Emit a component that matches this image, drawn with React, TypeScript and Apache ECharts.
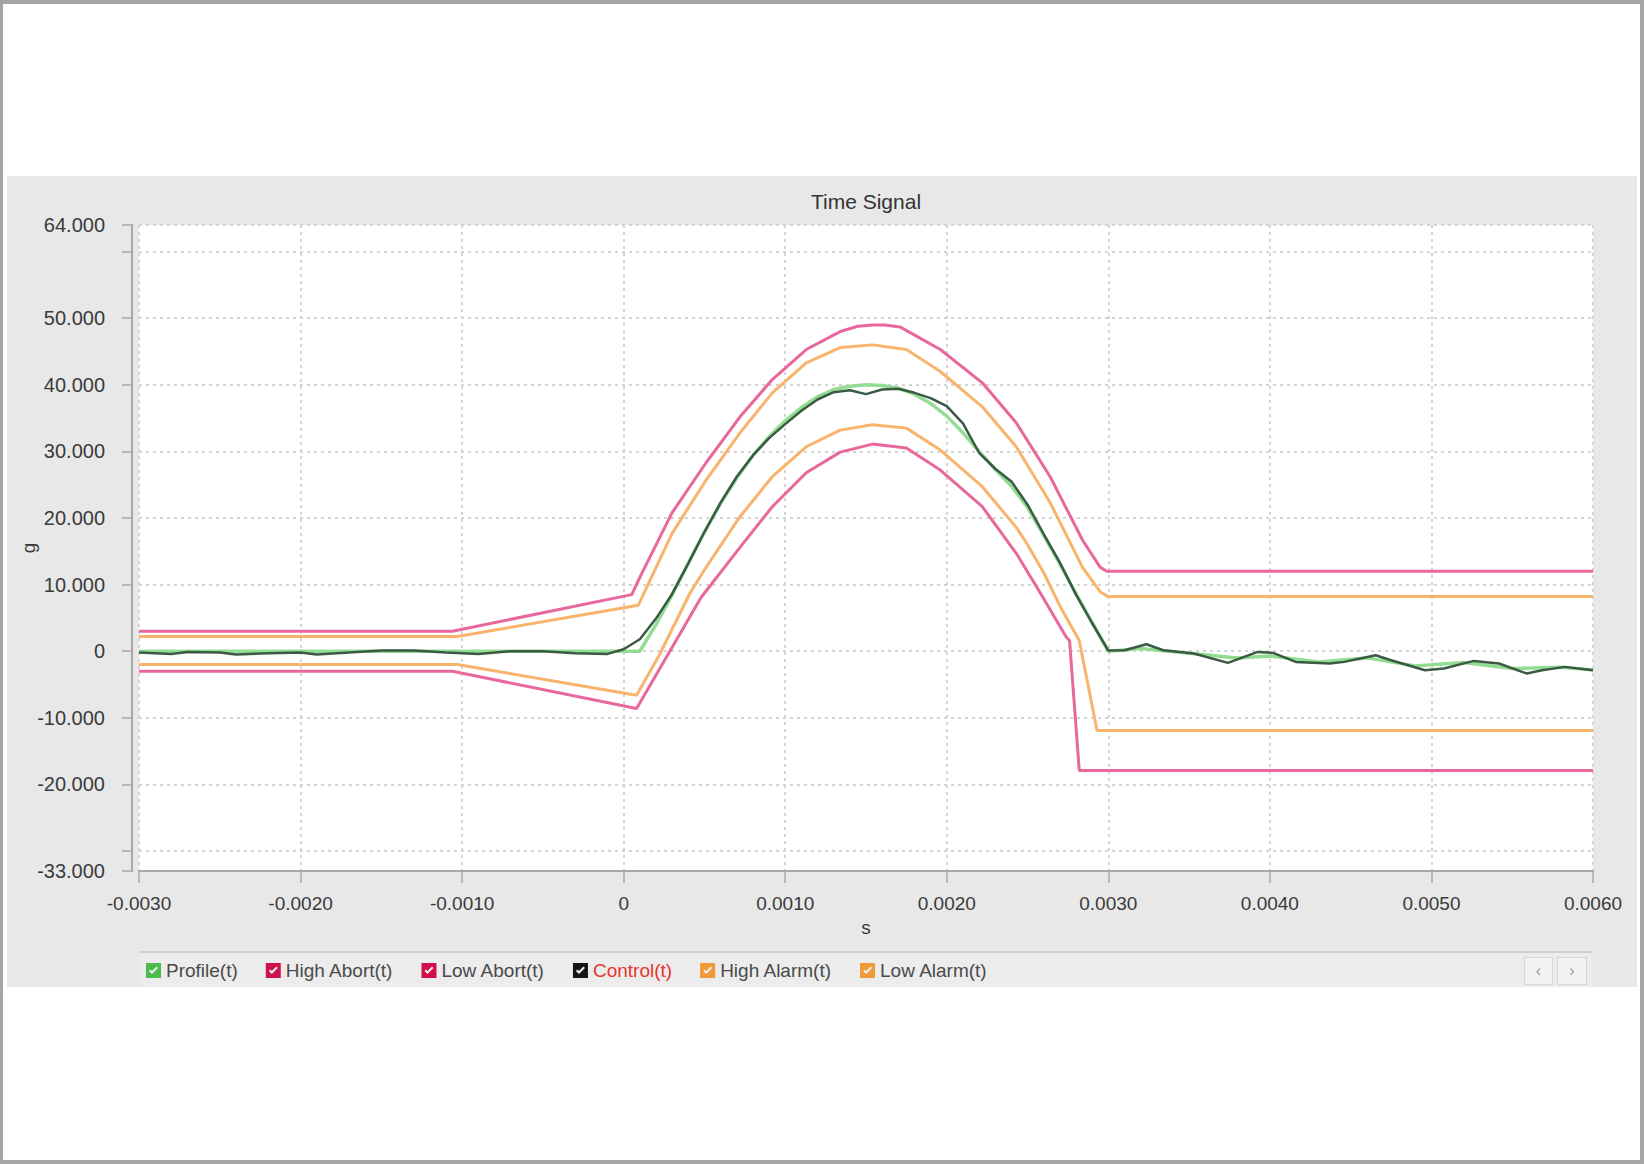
import React, { useEffect, useRef } from "react";
import * as echarts from "echarts";

// ---- data (time in s, acceleration in g) ----
const seriesNames = ["Profile(t)", "High Abort(t)", "Low Abort(t)", "Control(t)", "High Alarm(t)", "Low Alarm(t)"];

const profile: number[][] = [
  [-0.003, 0], [0.0001, 0], [0.0002, 4.0], [0.0003, 8.5], [0.0004, 13.2], [0.0005, 17.9],
  [0.0006, 22.2], [0.0007, 26.0], [0.0008, 29.4], [0.0009, 32.2], [0.001, 34.6], [0.0011, 36.6],
  [0.0012, 38.2], [0.0013, 39.3], [0.0014, 39.8], [0.0015, 40.0], [0.0016, 39.9], [0.0017, 39.5],
  [0.0018, 38.6], [0.0019, 37.2], [0.002, 35.3], [0.0021, 32.8], [0.0022, 30.0], [0.0023, 27.3],
  [0.0024, 24.8], [0.0025, 21.6], [0.0026, 17.4], [0.0027, 13.1], [0.0028, 8.6], [0.0029, 4.3],
  [0.003, 0.0], [0.0032, 0.4], [0.0035, -0.3], [0.0038, -1.0], [0.004, -0.7], [0.0043, -1.6],
  [0.0046, -1.0], [0.0049, -2.2], [0.0052, -1.7], [0.0055, -2.6], [0.0058, -2.4], [0.006, -2.8],
];

const control: number[][] = [
  [-0.003, -0.2], [-0.0028, -0.4], [-0.0027, -0.1], [-0.0025, -0.2], [-0.0024, -0.5], [-0.0022, -0.3],
  [-0.002, -0.2], [-0.0019, -0.5], [-0.0017, -0.2], [-0.0015, 0.1], [-0.0013, 0.1], [-0.0011, -0.2],
  [-0.0009, -0.4], [-0.0007, 0.0], [-0.0005, 0.0], [-0.0003, -0.3], [-0.0001, -0.4], [0.0, 0.3],
  [0.0001, 1.8], [0.0002, 4.9], [0.0003, 8.6], [0.0004, 13.2], [0.0005, 17.9], [0.0006, 22.3],
  [0.0007, 26.2], [0.0008, 29.4], [0.0009, 32.0], [0.001, 34.1], [0.0011, 36.1], [0.0012, 37.8],
  [0.0013, 38.9], [0.0014, 39.2], [0.0015, 38.6], [0.0016, 39.3], [0.0017, 39.4], [0.0018, 38.8],
  [0.0019, 38.0], [0.002, 36.8], [0.0021, 34.2], [0.0022, 29.8], [0.0023, 27.4], [0.0024, 25.5],
  [0.0025, 22.0], [0.0026, 17.6], [0.0027, 13.3], [0.0028, 8.5], [0.0029, 4.2], [0.003, 0.1],
  [0.0031, 0.15], [0.003236, 1.05], [0.00334, 0.15], [0.00353, -0.35], [0.00374, -1.75], [0.003925, -0.1],
  [0.00402, -0.25], [0.00416, -1.6], [0.00437, -1.85], [0.00446, -1.6], [0.004655, -0.6], [0.00475, -1.35],
  [0.00496, -2.85], [0.005077, -2.6], [0.005263, -1.45], [0.005418, -1.85], [0.00559, -3.35], [0.005684, -2.85],
  [0.005826, -2.35], [0.006, -2.85],
];

const highAbort: number[][] = [
  [-0.003, 3.0], [-0.00106, 3.0], [0.00005, 8.5], [0.0001, 11.1], [0.0003, 20.8], [0.00051, 28.3],
  [0.00072, 35.2], [0.00092, 40.8], [0.00113, 45.3], [0.00134, 48.0], [0.00145, 48.8], [0.00154, 49.0],
  [0.00162, 49.0], [0.00171, 48.7], [0.00196, 45.3], [0.00222, 40.3], [0.00243, 34.3], [0.00264, 26.2],
  [0.00284, 16.7], [0.00295, 12.6], [0.00299, 12.0], [0.006, 12.0],
];

const lowAbort: number[][] = [
  [-0.003, -3.0], [-0.00106, -3.0], [0.00008, -8.6], [0.00048, 8.1], [0.00072, 15.6], [0.00092, 21.7],
  [0.00113, 26.8], [0.00134, 29.9], [0.00154, 31.1], [0.00175, 30.5], [0.00196, 27.2], [0.00222, 21.7],
  [0.00243, 14.7], [0.00258, 8.7], [0.00274, 2.1], [0.00276, 1.6], [0.00282, -17.9], [0.006, -17.9],
];

const highAlarm: number[][] = [
  [-0.003, 2.2], [-0.00103, 2.2], [0.00009, 6.9], [0.0003, 17.7], [0.00051, 25.7], [0.00072, 32.8],
  [0.00092, 38.8], [0.00113, 43.3], [0.00134, 45.6], [0.00154, 46.0], [0.00175, 45.3], [0.00196, 42.0],
  [0.00222, 36.7], [0.00243, 30.7], [0.00264, 22.3], [0.00284, 12.6], [0.00295, 8.9], [0.003, 8.2],
  [0.006, 8.2],
];

const lowAlarm: number[][] = [
  [-0.003, -2.0], [-0.00103, -2.0], [0.00008, -6.6], [0.00022, -0.6], [0.00041, 8.7], [0.00051, 12.6],
  [0.00072, 20.2], [0.00092, 26.2], [0.00113, 30.7], [0.00134, 33.2], [0.00154, 34.0], [0.00175, 33.5],
  [0.00196, 30.2], [0.00222, 24.7], [0.00243, 18.6], [0.0025, 16.0], [0.0026, 11.8], [0.0027, 6.8],
  [0.00282, 1.6], [0.00293, -11.9], [0.006, -11.9],
];

const yTickValues = [-33, -30, -20, -10, 0, 10, 20, 30, 40, 50, 60, 64];
const yLabelValues = [-33, -20, -10, 0, 10, 20, 30, 40, 50, 64];

const FONT = "'Liberation Sans', Arial, sans-serif";
const PINK = "#e8679d";
const ORANGE = "#f8b46c";
const LIGHTGREEN = "#93dd93";
const DARK = "#3b5a43";
const iconColors = ["#4cbb4c", "#d0104a", "#d0104a", "#151515", "#f09a35", "#f09a35"];
const CHECK_ICON =
  "path://M0,0 L15,0 L15,15 L0,15 Z M3,8 L6,11 L12,5 L10.5,3.5 L6,8 L4.5,6.5 Z";

export default function App() {
  const ref = useRef<HTMLDivElement>(null);

  useEffect(() => {
    if (!ref.current) return;
    const chart = echarts.init(ref.current, undefined, { renderer: "svg" });
    const gridLine = { show: true, lineStyle: { type: [3, 4] as any, color: "#d4d4d4", width: 2 } };
    const lineSeries = (name: string, data: number[][], color: string, width: number) => ({
      name,
      type: "line",
      data,
      symbol: "none",
      showSymbol: false,
      silent: true,
      lineStyle: { color, width },
      itemStyle: { color },
    });
    chart.setOption({
      animation: false,
      backgroundColor: "transparent",
      title: {
        text: "Time Signal",
        left: 866,
        top: 191,
        textAlign: "center",
        padding: 0,
        textStyle: { fontFamily: FONT, fontSize: 21, fontWeight: "normal", color: "#333" },
      },
      grid: { left: 139, top: 225, width: 1454, height: 646, show: true, backgroundColor: "#ffffff", borderWidth: 0 },
      legend: {
        left: 146,
        top: 961,
        padding: 0,
        itemWidth: 15,
        itemHeight: 15,
        itemGap: 28,
        selectedMode: false,
        textStyle: { fontFamily: FONT, fontSize: 19, color: "#4a4a4a" },
        data: seriesNames.map((n, i) => ({
          name: n,
          icon: CHECK_ICON,
          itemStyle: { color: iconColors[i] },
          textStyle: i === 3 ? { color: "#e8352f" } : undefined,
        })),
      },
      xAxis: {
        type: "value",
        min: -0.003,
        max: 0.006,
        interval: 0.001,
        name: "s",
        nameLocation: "middle",
        nameGap: 47,
        nameTextStyle: { fontFamily: FONT, fontSize: 19, color: "#3a3a3a" },
        axisLine: { show: true, onZero: false, lineStyle: { color: "#a8a8a8", width: 2 } },
        axisTick: { show: true, length: 12, lineStyle: { color: "#a8a8a8", width: 1.5 } },
        axisLabel: {
          fontFamily: FONT,
          fontSize: 19,
          color: "#3a3a3a",
          margin: 23,
          formatter: (v: number) => (Math.abs(v) < 1e-9 ? "0" : v.toFixed(4)),
        },
        splitLine: gridLine,
      },
      yAxis: {
        type: "value",
        min: -33,
        max: 64,
        offset: 7,
        name: "g",
        nameLocation: "middle",
        nameRotate: 90,
        nameGap: 94,
        nameMoveOverlap: false,
        nameTextStyle: { fontFamily: FONT, fontSize: 19, color: "#3a3a3a" },
        axisLine: { show: true, onZero: false, lineStyle: { color: "#a8a8a8", width: 2 } },
        axisTick: { show: true, length: 10, customValues: yTickValues, lineStyle: { color: "#a8a8a8", width: 1.5 } },
        axisLabel: {
          customValues: yLabelValues,
          fontFamily: FONT,
          fontSize: 20,
          color: "#3a3a3a",
          margin: 27,
          formatter: (v: number) => (Math.abs(v) < 1e-9 ? "0" : v.toFixed(3)),
        },
        splitLine: gridLine,
      },
      series: [
        lineSeries(seriesNames[0], profile, LIGHTGREEN, 3.5),
        lineSeries(seriesNames[1], highAbort, PINK, 3),
        lineSeries(seriesNames[2], lowAbort, PINK, 3),
        lineSeries(seriesNames[3], control, DARK, 2.5),
        lineSeries(seriesNames[4], highAlarm, ORANGE, 3),
        lineSeries(seriesNames[5], lowAlarm, ORANGE, 3),
      ],
    });
    return () => chart.dispose();
  }, []);

  const abs = (l: number, t: number, w: number, h: number, extra: React.CSSProperties = {}): React.CSSProperties => ({
    position: "absolute",
    left: l,
    top: t,
    width: w,
    height: h,
    boxSizing: "border-box",
    ...extra,
  });

  return (
    <div style={abs(0, 0, 1644, 1164, { background: "#ffffff", overflow: "hidden" })}>
      <div style={abs(0, 0, 1644, 1164, { borderStyle: "solid", borderColor: "#a5a5a5", borderWidth: "4px 4px 4px 3px" })} />
      <div style={abs(7, 176, 1630, 811, { background: "#e8e8e8" })} />
      <div style={abs(139, 951, 1454, 36, { background: "#ececec", borderTop: "2px solid #cfcfcf" })} />
      <div
        style={abs(1524, 957, 29, 28, {
          background: "#f2f2f2",
          border: "1px solid #d6d6d6",
          color: "#999",
          fontFamily: FONT,
          fontSize: 16,
          lineHeight: "26px",
          textAlign: "center",
        })}
      >
        ‹
      </div>
      <div
        style={abs(1557, 957, 30, 28, {
          background: "#f2f2f2",
          border: "1px solid #d6d6d6",
          color: "#999",
          fontFamily: FONT,
          fontSize: 16,
          lineHeight: "26px",
          textAlign: "center",
        })}
      >
        ›
      </div>
      <div ref={ref} style={abs(0, 0, 1644, 1164)} />
    </div>
  );
}
